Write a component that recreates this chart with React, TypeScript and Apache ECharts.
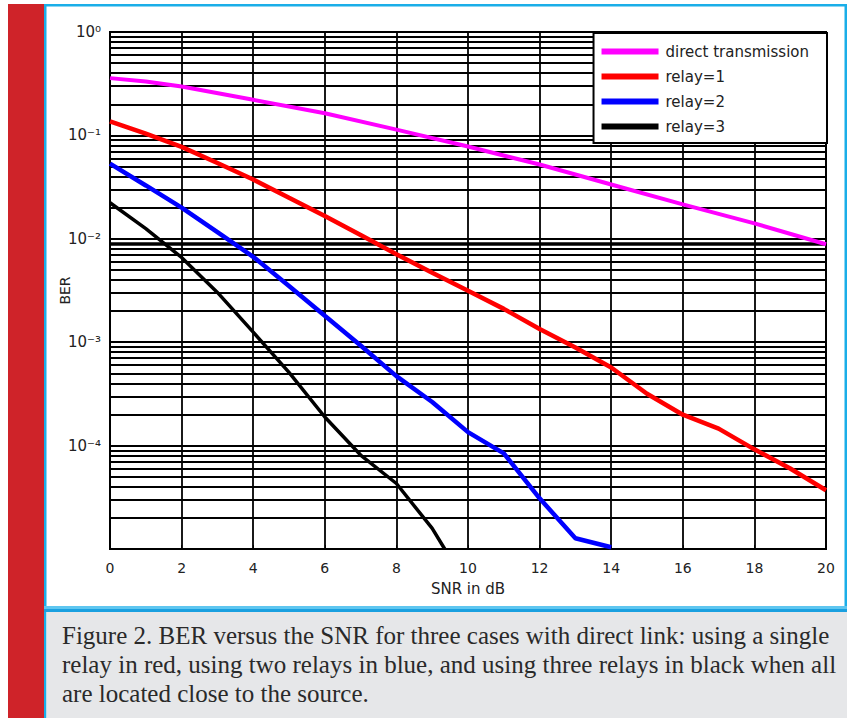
import React, { useEffect, useRef } from "react";
import * as echarts from "echarts";

// ---- data ----
const seriesNames = ["direct transmission", "relay=1", "relay=2", "relay=3"];
const seriesColors = ["#ff00ff", "#ff0000", "#0000ff", "#000000"];
const seriesWidths = [4, 4.5, 4.5, 3.5];

const snrDirect = [0, 1, 2, 4, 6, 8, 10, 12, 14, 16, 18, 20];
const berDirect = [0.358, 0.332, 0.297, 0.221, 0.164, 0.1136, 0.078, 0.0523, 0.0335, 0.0215, 0.0141, 0.00885];

const snrRelay1 = [0, 1, 2, 3, 4, 5, 6, 7, 8, 9, 10, 11, 12, 13, 14, 15, 16, 17, 18, 19, 20];
const berRelay1 = [0.1367, 0.104, 0.0774, 0.054, 0.0375, 0.0249, 0.0166, 0.0109, 0.0071, 0.0047, 0.00314, 0.0021, 0.00134, 0.00089, 0.00057, 0.000317, 0.000199, 0.000146, 0.000092, 0.00006, 0.000037];

const snrRelay2 = [0, 1, 2, 3, 4, 5, 6, 7, 8, 9, 10, 11, 12, 13, 14];
const berRelay2 = [0.0534, 0.0328, 0.02, 0.0116, 0.0067, 0.0035, 0.0018, 0.00093, 0.00047, 0.000264, 0.000135, 0.000084, 0.0000309, 0.0000127, 0.0000104];

const snrRelay3 = [0, 1, 2, 3, 4, 5, 6, 7, 8, 9, 9.35];
const berRelay3 = [0.0223, 0.01254, 0.0066, 0.00303, 0.00125, 0.00051, 0.000189, 0.000081, 0.000043, 0.0000158, 0.00001];

const xMin = 0;
const xMax = 20;
const xInterval = 2;
const yMin = 1e-5;
const yMax = 1;
const minorDecades = [1e-5, 1e-4, 1e-3, 1e-2, 1e-1];
const minorMultipliers = [2, 3, 4, 5, 6, 7, 8, 9];
const boldMinorValue = 9e-3;

const xAxisName = "SNR in dB";
const yAxisName = "BER";

const captionLines = [
  "Figure 2. BER versus the SNR for three cases with direct link: using a single",
  "relay in red, using two relays in blue, and using three relays in black when all",
  "are located close to the source.",
];

const supMap: Record<string, string> = {
  "0": "\u2070", "1": "\u00b9", "2": "\u00b2", "3": "\u00b3", "4": "\u2074",
  "5": "\u2075", "-": "\u207b",
};

function pairs(xs: number[], ys: number[]) {
  return xs.map((x, i) => [x, ys[i]]);
}

export default function App() {
  const ref = useRef<HTMLDivElement>(null);

  useEffect(() => {
    if (!ref.current) return;
    const chart = echarts.init(ref.current, undefined, { renderer: "svg" });

    const minorLines: any[] = [];
    minorDecades.forEach((d) => {
      minorMultipliers.forEach((m) => {
        const v = d * m;
        const isBold = Math.abs(v - boldMinorValue) < 1e-9;
        minorLines.push({
          yAxis: v,
          lineStyle: { width: isBold ? 3.5 : 1.8, color: "#000", type: "solid" },
        });
      });
    });

    const xs = [snrDirect, snrRelay1, snrRelay2, snrRelay3];
    const ys = [berDirect, berRelay1, berRelay2, berRelay3];

    const curveSeries = seriesNames.map((name, i) => ({
      name,
      type: "line",
      data: pairs(xs[i], ys[i]),
      showSymbol: false,
      symbol: "none",
      z: 5,
      clip: true,
      lineStyle: { color: seriesColors[i], width: seriesWidths[i] },
      itemStyle: { color: seriesColors[i] },
    }));

    const font = "DejaVu Sans";

    const option: any = {
      animation: false,
      backgroundColor: "#ffffff",
      graphic: [
        { type: "rect", shape: { x: 8, y: 4, width: 36, height: 714 }, style: { fill: "#cf2329" } },
        { type: "rect", shape: { x: 44, y: 4, width: 803, height: 2.5 }, style: { fill: "#1aaee8" } },
        { type: "rect", shape: { x: 44, y: 4, width: 2.5, height: 714 }, style: { fill: "#1aaee8" } },
        { type: "rect", shape: { x: 844.5, y: 4, width: 2.5, height: 604 }, style: { fill: "#1aaee8" } },
        { type: "rect", shape: { x: 46.5, y: 612, width: 800.5, height: 106 }, style: { fill: "#e6e7e9" } },
        { type: "rect", shape: { x: 44, y: 606, width: 803, height: 3 }, style: { fill: "#5ec6f0" } },
        { type: "rect", shape: { x: 44, y: 609, width: 803, height: 3 }, style: { fill: "#1aa0e0" } },
        ...captionLines.map((t, i) => ({
          type: "text",
          x: 62,
          y: 635 + i * 29,
          style: {
            text: t,
            fontSize: 25,
            fontFamily: "Liberation Serif",
            fill: "#2a2a2a",
            verticalAlign: "middle",
            align: "left",
          },
        })),
      ],
      grid: {
        left: 110,
        right: 21,
        top: 32,
        bottom: 169,
        show: true,
        borderColor: "#000",
        borderWidth: 2,
        backgroundColor: "transparent",
      },
      legend: {
        data: seriesNames,
        orient: "vertical",
        right: 20,
        top: 33,
        padding: [11, 18, 9, 8],
        itemGap: 10,
        itemWidth: 57,
        itemHeight: 6,
        icon: "rect",
        backgroundColor: "#ffffff",
        borderColor: "#000",
        borderWidth: 2,
        textStyle: { fontFamily: font, fontSize: 15, color: "#222", padding: [0, 0, 0, 2] },
        z: 10,
      },
      xAxis: {
        type: "value",
        min: xMin,
        max: xMax,
        interval: xInterval,
        name: xAxisName,
        nameLocation: "middle",
        nameGap: 32,
        nameMoveOverlap: false,
        nameTextStyle: { fontFamily: font, fontSize: 15, color: "#222" },
        axisLine: { show: true, lineStyle: { color: "#000", width: 2 } },
        axisTick: { show: true, inside: true, length: 4, lineStyle: { color: "#000" } },
        axisLabel: { fontFamily: font, fontSize: 14, color: "#222", margin: 12 },
        splitLine: { show: true, lineStyle: { color: "#000", width: 1.8, type: "solid" } },
      },
      yAxis: {
        type: "log",
        logBase: 10,
        min: yMin,
        max: yMax,
        name: yAxisName,
        nameLocation: "middle",
        nameGap: 38,
        nameMoveOverlap: false,
        nameTextStyle: { fontFamily: font, fontSize: 14, color: "#222" },
        axisLine: { show: true, lineStyle: { color: "#000", width: 2 } },
        axisTick: { show: true, inside: true, length: 5, lineStyle: { color: "#000" } },
        axisLabel: {
          fontFamily: font,
          fontSize: 15,
          color: "#222",
          margin: 9,
          formatter: (v: number) => {
            const e = Math.round(Math.log10(v));
            if (e <= -5) return "";
            const sup = String(e).split("").map((c) => supMap[c] || c).join("");
            return "10" + sup;
          },
        },
        splitLine: { show: true, lineStyle: { color: "#000", width: 1.8, type: "solid" } },
      },
      series: [
        {
          name: "__minor",
          type: "line",
          data: [],
          z: 1,
          silent: true,
          markLine: {
            silent: true,
            precision: 12,
            symbol: ["none", "none"],
            label: { show: false },
            emphasis: { disabled: true },
            animation: false,
            data: minorLines,
          },
        },
        ...curveSeries,
      ],
    };

    chart.setOption(option);
    return () => chart.dispose();
  }, []);

  return (
    <div
      ref={ref}
      style={{ position: "fixed", left: 0, top: 0, width: 847, height: 718 }}
    />
  );
}
